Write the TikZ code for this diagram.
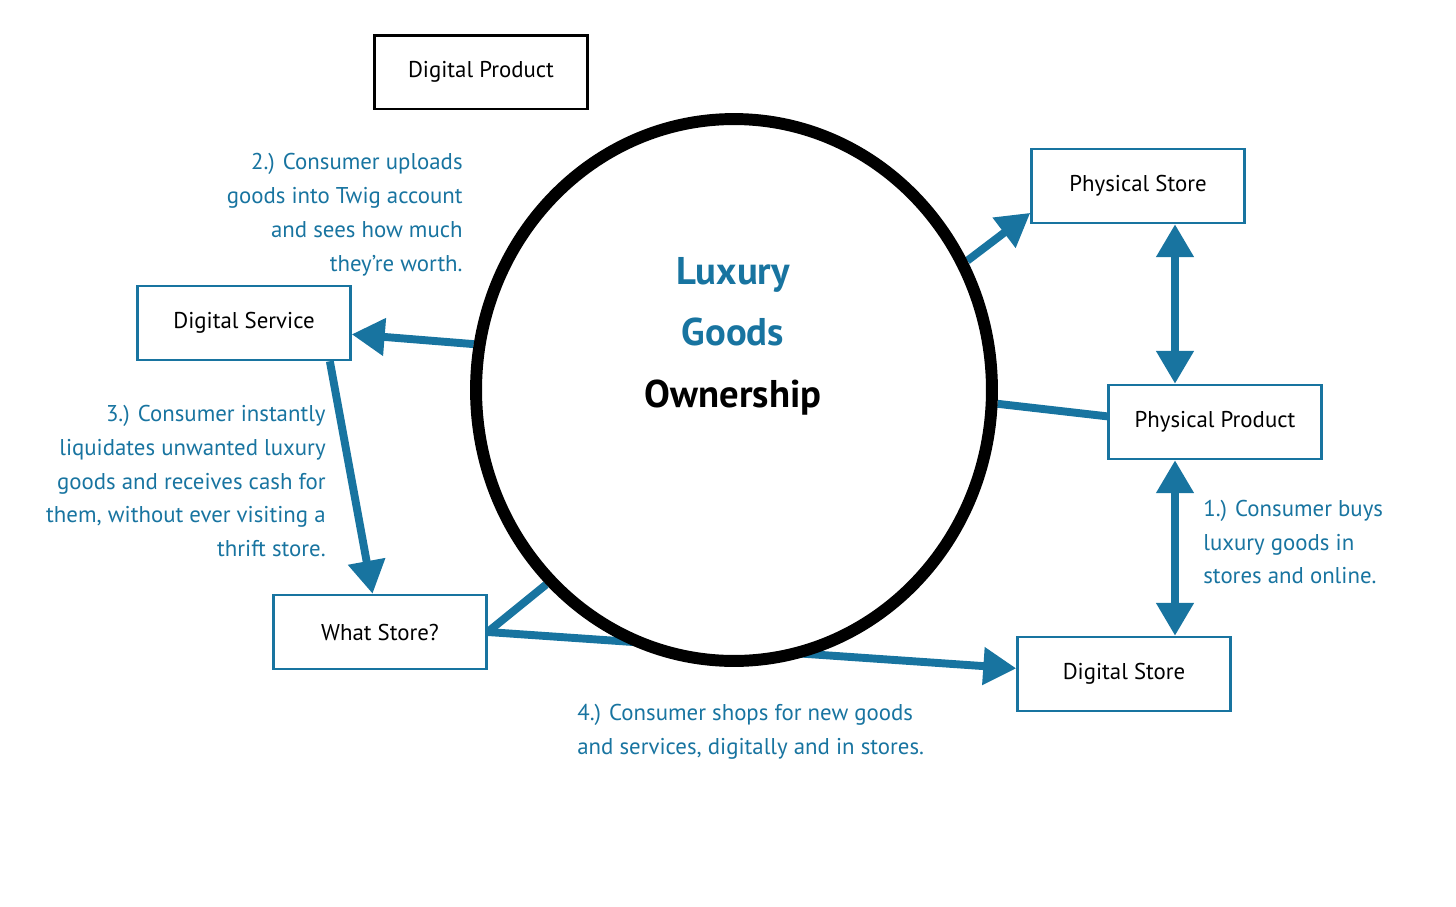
\documentclass[tikz,border=0pt]{standalone}
\usepackage{fontspec}
\setmainfont{PT Sans}
\usetikzlibrary{shapes.geometric, arrows.meta, positioning, backgrounds, calc}
\definecolor{twigblue}{RGB}{24,116,160}
\tikzstyle{box}  = [rectangle, minimum width=4.26cm, minimum height=1.48cm,
                    text centered, draw=twigblue, line width=1.4pt,
                    font=\fontsize{13}{15}\selectfont, text=black]
\tikzstyle{note} = [text=twigblue, inner sep=0pt,
                    font=\fontsize{13}{19.3}\selectfont]
\tikzstyle{arr}  = [-{Triangle[length=0.66cm,width=0.72cm]},
                    line width=4.5pt, draw=twigblue]
\tikzstyle{dbl}  = [{Triangle[length=0.66cm,width=0.72cm]}-{Triangle[length=0.66cm,width=0.72cm]},
                    line width=4.5pt, draw=twigblue]
\tikzstyle{link} = [line width=4.5pt, draw=twigblue]
\begin{document}
\begin{tikzpicture}[x=0.02cm, y=-0.02cm]
  \useasboundingbox (0,0) rectangle (1456,906);

  %% Centre ellipse
  \node[ellipse, draw=black, fill=white, line width=6.8pt, inner sep=0pt,
        minimum width=10.32cm, minimum height=10.84cm] (own) at (734,390) {};
  \node[align=center, font=\fontsize{22}{35}\selectfont\bfseries] (title) at (733,336)
      {\textcolor{twigblue}{Luxury}\\\textcolor{twigblue}{Goods}\\Ownership};

  %% Boxes
  \node[box, draw=black, line width=1.7pt] (dprod) at (481,72) {Digital Product};
  \node[box] (pstore) at (1138,186) {Physical Store};
  \node[box] (pprod)  at (1215,422) {Physical Product};
  \node[box] (dstore) at (1124,674) {Digital Store};
  \node[box] (dserv)  at (244,323)  {Digital Service};
  \node[box] (wstore) at (380,632)  {What Store?};

  %% Notes
  \node[note, align=right, anchor=east] (n2) at (463,215)
      {2.) Consumer uploads\\goods into Twig account\\and sees how much\\they’re worth.};
  \node[note, align=right, anchor=east] (n3) at (326,481)
      {3.) Consumer instantly\\liquidates unwanted luxury\\goods and receives cash for\\them, without ever visiting a\\thrift store.};
  \node[note, align=left, anchor=west] (n1) at (1203,542)
      {1.) Consumer buys\\luxury goods in\\stores and online.};
  \node[note, align=left, anchor=west] (n4) at (577,732)
      {4.) Consumer shops for new goods\\and services, digitally and in stores.};

  %% Connectors (behind the ellipse)
  \begin{scope}[on background layer]
    \draw[arr]  (own.29)    -- (pstore.194);
    \draw[link] (own.-3)    -- (pprod.177);
    \draw[arr]  (own.170)   -- (dserv.-6);
    \draw[arr]  (dserv.-24) -- (wstore.101);
    \draw[link] (wstore.east) -- (own.-134);
    \draw[arr]  (wstore.east) -- (dstore.177);
  \end{scope}

  %% Store rail
  \coordinate (rail) at (1175,0);
  \draw[dbl] (pstore.south -| rail) -- (pprod.north -| rail);
  \draw[dbl] (pprod.south -| rail)  -- (dstore.north -| rail);

\end{tikzpicture}
\end{document}
